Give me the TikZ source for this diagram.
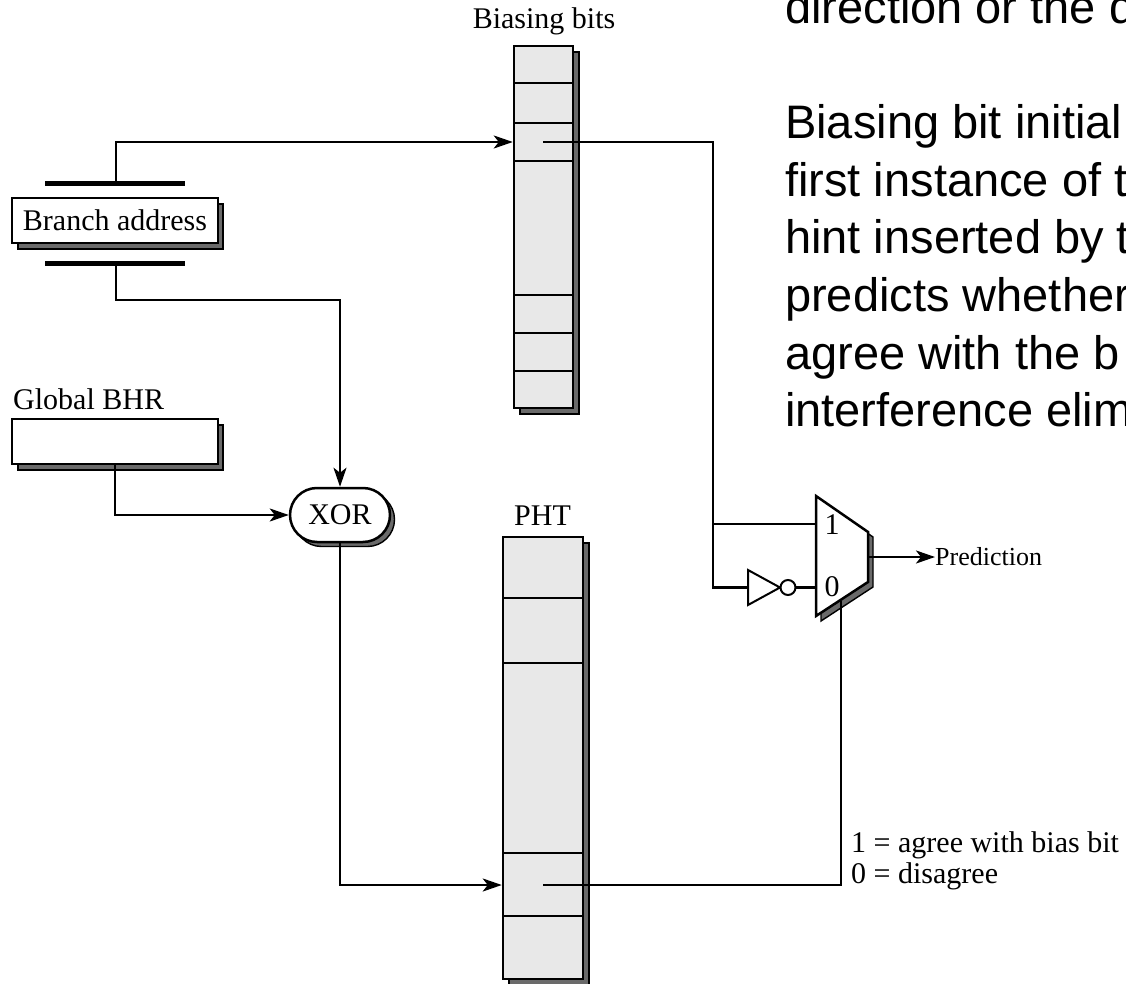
\documentclass[tikz,border=0pt]{standalone}
\usepackage{fontspec}
\setmainfont{Liberation Serif}
\newfontfamily\arialfont{Liberation Sans}
\usetikzlibrary{arrows.meta,calc}
\definecolor{cellgray}{HTML}{E8E8E8}
\definecolor{shadowgray}{HTML}{6A6A6A}
\begin{document}
\begin{tikzpicture}[x=1pt,y=-1pt,
  lbl/.style={font=\fontsize{30}{32}\selectfont, inner sep=0pt},
  note/.style={font=\arialfont\fontsize{47}{57.5}\selectfont, anchor=base west, inner sep=0pt},
  wire/.style={line width=2.5pt},
  arr/.style={wire, -{Stealth[length=19pt,width=13pt,inset=5pt]}},
  shade/.style={fill=shadowgray, draw=black, line width=1.4pt},
  cellbox/.style={fill=cellgray, draw=black, line width=2.5pt, inner sep=0pt},
  regbox/.style={fill=white, draw=black, line width=2.5pt, inner sep=0pt},
  bar/.style={line width=5pt},
]
\useasboundingbox (0,0) rectangle (1126,984);
\clip (0,0) rectangle (1126,984);

% ---- notes on the right (cut off by the frame)
\node[note] (n1) at (785,24) {direction or the d};
\node[note] (n2) at (785,139) {Biasing bit initial};
\node[note] (n3) at (785,196.5) {first instance of t};
\node[note] (n4) at (785,254) {hint inserted by t};
\node[note] (n5) at (785,311.5) {predicts whether};
\node[note] (n6) at (785,369) {agree with the b};
\node[note] (n7) at (785,426.5) {interference elim};

% ---- biasing bits table
\draw[shade] (520,52) rectangle (579,414);
\node[cellbox, minimum width=59pt, minimum height=362pt] (bb) at (543.5,227) {};
\foreach \y in {83,123,161,295,333,371} \draw[wire] (514,\y) -- (573,\y);
\node[lbl, anchor=base] (bblabel) at (544,29) {Biasing bits};
\coordinate (bcell) at (543,142);

% ---- PHT table
\draw[shade] (509,543) rectangle (589,990);
\node[cellbox, minimum width=80pt, minimum height=442pt] (pht) at (543,758) {};
\foreach \y in {598,663,853,916} \draw[wire] (503,\y) -- (583,\y);
\node[lbl, anchor=base] (phtlabel) at (542.5,525) {PHT};
\coordinate (pcell) at (543,885);

% ---- branch address register
\draw[shade] (18,204) rectangle (223,249);
\node[regbox, lbl, minimum width=206pt, minimum height=45pt] (ba) at (115,220.5) {Branch address};
\draw[bar] (45,184) -- (185,184);
\draw[bar] (45,263) -- (185,263);
\coordinate (bartop) at (116,184);
\coordinate (barbot) at (116,263);

% ---- global BHR
\node[lbl, anchor=base west] (bhrlabel) at (13,409) {Global BHR};
\draw[shade] (18,425) rectangle (223,470);
\node[regbox, minimum width=206pt, minimum height=45pt] (bhr) at (115,441.5) {};

% ---- XOR
\node[shade, rounded corners=27pt, minimum width=100pt, minimum height=54pt, inner sep=0pt] (xorsh) at (344.5,519.5) {};
\node[regbox, lbl, rounded corners=27pt, minimum width=100pt, minimum height=54pt] (xor) at (340,515) {XOR};

% ---- multiplexer
\draw[shade] (821,501) -- (873,537) -- (873,587) -- (821,621) -- cycle;
\draw[wire, fill=white] (816,496) -- (868,532) -- (868,582) -- (816,616) -- cycle;
\node[lbl] (m1) at (832,525) {1};
\node[lbl] (m0) at (832,587) {0};
\coordinate (mux1) at (816,524);
\coordinate (mux0) at (816,587.5);
\coordinate (muxout) at (868,557);
\coordinate (muxsel) at (841,601);

% ---- inverter
\draw[line width=2pt, fill=white] (748,570) -- (780,587.5) -- (748,605) -- cycle;
\draw[line width=2pt, fill=white] (788,587.5) circle (7.5);
\coordinate (invin) at (748,587.5);
\coordinate (invout) at (795.5,587.5);

% ---- labels
\node[font=\fontsize{26}{28}\selectfont, inner sep=0pt, anchor=west] (pred) at (935,557) {Prediction};
\node[lbl, anchor=base west] (leg1) at (851,852) {1 = agree with bias bit};
\node[lbl, anchor=base west] (leg0) at (851,883) {0 = disagree};

% ---- connectors
\coordinate (split) at (713,142);
\draw[arr] (bartop) |- (bb.west |- bcell);
\draw[arr] (barbot) -- (116,300) -| (xor.north);
\draw[arr] (bhr.south) |- (xor.west);
\draw[arr] (xor.south) |- (pht.west |- pcell);
\draw[wire] (bcell) -- (split) |- (invin);
\draw[wire] (split |- mux1) -- (mux1);
\draw[wire] (invout) -- (mux0);
\draw[wire] (pcell) -| (muxsel);
\draw[arr] (muxout) -- (pred.west);
\end{tikzpicture}
\end{document}
